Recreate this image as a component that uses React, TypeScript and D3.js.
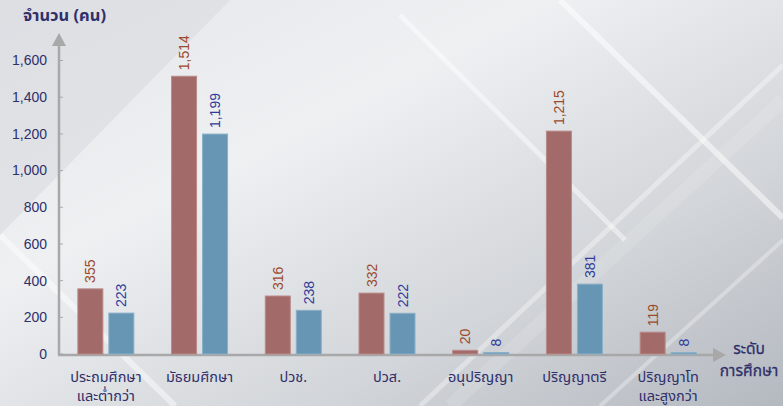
import React from "react";
import * as d3 from "d3";

const categories = ["ประถมศึกษา\nและต่ำกว่า", "มัธยมศึกษา", "ปวช.", "ปวส.", "อนุปริญญา", "ปริญญาตรี", "ปริญญาโท\nและสูงกว่า"];
const seriesA = [355, 1514, 316, 332, 20, 1215, 119];
const seriesB = [223, 1199, 238, 222, 8, 381, 8];
const yTicks = [0, 200, 400, 600, 800, 1000, 1200, 1400, 1600];
const yTitle = "จำนวน (คน)";
const xTitle = ["ระดับ", "การศึกษา"];

const W = 783, H = 406;
const FONT = "Tahoma, 'Noto Sans Thai', 'Noto Sans', 'DejaVu Sans', sans-serif";
const NUMFONT = "'Liberation Sans', Arial, sans-serif";

export default function App() {
  const x0 = d3.scaleBand<string>().domain(categories).range([59, 715]).padding(0);
  const step = x0.step();
  const x1 = d3.scaleBand<string>().domain(["a", "b"]).range([(step - 56) / 2, (step + 56) / 2]).paddingInner(6 / 31).paddingOuter(0);
  const y = d3.scaleLinear().domain([0, 1600]).range([354, 60.5]);
  const fmt = d3.format(",");
  const series = [
    { key: "a", values: seriesA, fill: "#a26a68", stroke: "#b98a88", text: "#9c4a2c" },
    { key: "b", values: seriesB, fill: "#6795b4", stroke: "#8ab0c8", text: "#2f3c9c" },
  ];
  const navy = "#2f2f6a";
  return (
    <svg width={W} height={H} style={{ position: "fixed", left: 0, top: 0 }}>
      <defs>
        <linearGradient id="bg" x1="0" y1="0" x2="1" y2="1">
          <stop offset="0" stopColor="#e4e6e9" />
          <stop offset="0.35" stopColor="#eef0f2" />
          <stop offset="0.7" stopColor="#d2d5d9" />
          <stop offset="1" stopColor="#b4b9c0" />
        </linearGradient>
      </defs>
      <rect width={W} height={H} fill="url(#bg)" />
      <polygon points="0,0 230,0 0,235" fill="#d8dbdf" opacity={0.6} />
      <g stroke="#ffffff" fill="none">
        <line x1={0} y1={235} x2={175} y2={406} strokeWidth={6} opacity={0.45} />
        <line x1={400} y1={15} x2={625} y2={240} strokeWidth={5} opacity={0.45} />
        <line x1={560} y1={0} x2={783} y2={218} strokeWidth={6} opacity={0.5} />
        <line x1={420} y1={406} x2={783} y2={65} strokeWidth={5} opacity={0.35} />
        <line x1={600} y1={406} x2={783} y2={240} strokeWidth={4} opacity={0.3} />
        <line x1={450} y1={406} x2={783} y2={100} strokeWidth={14} opacity={0.12} />
      </g>
      <text x={23} y={21} fontFamily={FONT} fontSize={16.5} fontWeight="bold" fill={navy}>{yTitle}</text>
      {/* axes */}
      <line x1={59} y1={44} x2={59} y2={355} stroke="#a8a8a8" strokeWidth={2.5} />
      <polygon points="52,46 66,46 59,33" fill="#a8a8a8" />
      <line x1={58} y1={355} x2={714} y2={355} stroke="#a8a8a8" strokeWidth={2.5} />
      <polygon points="713,348 713,362 726,355" fill="#a8a8a8" />
      {yTicks.map((t) => (
        <g key={t}>
          <line x1={59} x2={63} y1={y(t)} y2={y(t)} stroke="#a8a8a8" strokeWidth={1} />
          <text x={47} y={y(t)} dy="0.35em" textAnchor="end" fontFamily={NUMFONT} fontSize={14} fill={navy}>{fmt(t)}</text>
        </g>
      ))}
      {categories.map((c, i) => (
        <g key={c} transform={`translate(${x0(c)},0)`}>
          {series.map((s) => {
            const v = s.values[i];
            const bx = x1(s.key)!;
            const bw = x1.bandwidth();
            const cx = bx + bw / 2;
            return (
              <g key={s.key}>
                <rect x={bx} y={y(v)} width={bw} height={y(0) - y(v)} fill={s.fill} stroke={s.stroke} strokeWidth={1} />
                <text transform={`translate(${cx + 5},${y(v) - 6}) rotate(-90)`} fontFamily={NUMFONT} fontSize={14} fill={s.text}>{fmt(v)}</text>
              </g>
            );
          })}
          {c.split("\n").map((line, k) => (
            <text key={k} x={step / 2} y={382 + k * 19} textAnchor="middle" fontFamily={FONT} fontSize={14.5} fill={navy}>{line}</text>
          ))}
        </g>
      ))}
      {xTitle.map((t, k) => (
        <text key={k} x={749} y={354 + k * 22} textAnchor="middle" fontFamily={FONT} fontSize={15.5} fill={navy} stroke={navy} strokeWidth={0.3}>{t}</text>
      ))}
    </svg>
  );
}
